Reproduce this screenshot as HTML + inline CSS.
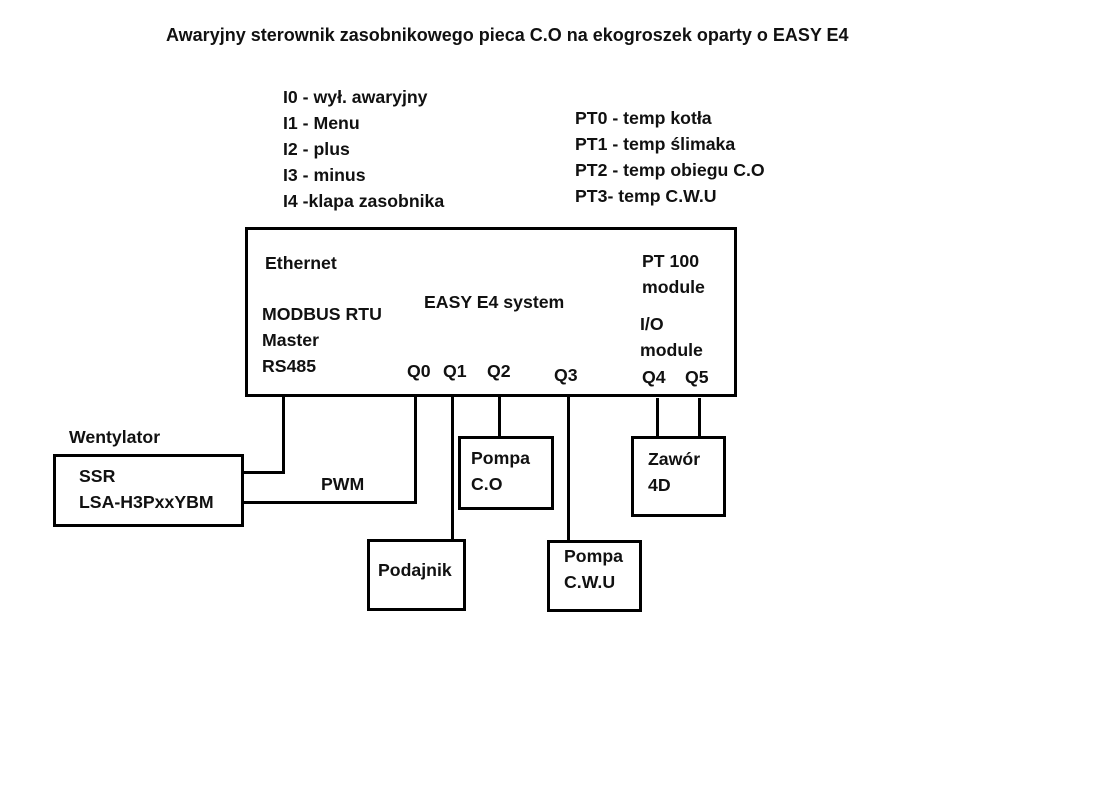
<!DOCTYPE html>
<html><head><meta charset="utf-8"><style>
body{margin:0;width:1096px;height:794px;background:#fff;position:relative;overflow:hidden;font-family:"Liberation Sans",sans-serif;font-weight:bold;color:#111}
.t{position:absolute;font-size:17.7px;white-space:nowrap;line-height:26px}
.b{position:absolute;border:3px solid #000;box-sizing:border-box}
.l{position:absolute;background:#000}
</style></head><body>
<div class="t" style="left:166px;top:22px;font-size:18px">Awaryjny sterownik zasobnikowego pieca C.O na ekogroszek oparty o EASY E4</div>
<div class="t" style="left:283px;top:84px">I0 - wył. awaryjny<br>I1 - Menu<br>I2 - plus<br>I3 - minus<br>I4 -klapa zasobnika</div>
<div class="t" style="left:575px;top:105px">PT0 - temp kotła<br>PT1 - temp ślimaka<br>PT2 - temp obiegu C.O<br>PT3- temp C.W.U</div>
<div class="b" style="left:245px;top:227px;width:492px;height:170px"></div>
<div class="t" style="left:265px;top:250px">Ethernet</div>
<div class="t" style="left:262px;top:301px">MODBUS RTU<br>Master<br>RS485</div>
<div class="t" style="left:424px;top:289px">EASY E4 system</div>
<div class="t" style="left:642px;top:248px">PT 100<br>module</div>
<div class="t" style="left:640px;top:311px">I/O<br>module</div>
<div class="t" style="left:407px;top:358px">Q0</div>
<div class="t" style="left:443px;top:358px">Q1</div>
<div class="t" style="left:487px;top:358px">Q2</div>
<div class="t" style="left:554px;top:362px">Q3</div>
<div class="t" style="left:642px;top:364px">Q4</div>
<div class="t" style="left:685px;top:364px">Q5</div>
<div class="t" style="left:69px;top:424px">Wentylator</div>
<div class="b" style="left:53px;top:454px;width:191px;height:73px"></div>
<div class="t" style="left:79px;top:463px">SSR<br>LSA-H3PxxYBM</div>
<div class="t" style="left:321px;top:471px">PWM</div>
<div class="l" style="left:282px;top:395px;width:3px;height:79px"></div>
<div class="l" style="left:243px;top:471px;width:42px;height:3px"></div>
<div class="l" style="left:243px;top:501px;width:174px;height:3px"></div>
<div class="l" style="left:414px;top:395px;width:3px;height:109px"></div>
<div class="l" style="left:451px;top:395px;width:3px;height:146px"></div>
<div class="l" style="left:498px;top:395px;width:3px;height:43px"></div>
<div class="l" style="left:567px;top:395px;width:3px;height:147px"></div>
<div class="l" style="left:656px;top:398px;width:3px;height:40px"></div>
<div class="l" style="left:698px;top:398px;width:3px;height:40px"></div>
<div class="b" style="left:458px;top:436px;width:96px;height:74px"></div>
<div class="t" style="left:471px;top:445px">Pompa<br>C.O</div>
<div class="b" style="left:631px;top:436px;width:95px;height:81px"></div>
<div class="t" style="left:648px;top:446px">Zawór<br>4D</div>
<div class="b" style="left:367px;top:539px;width:99px;height:72px"></div>
<div class="t" style="left:378px;top:557px">Podajnik</div>
<div class="b" style="left:547px;top:540px;width:95px;height:72px"></div>
<div class="t" style="left:564px;top:543px">Pompa<br>C.W.U</div>
</body></html>
